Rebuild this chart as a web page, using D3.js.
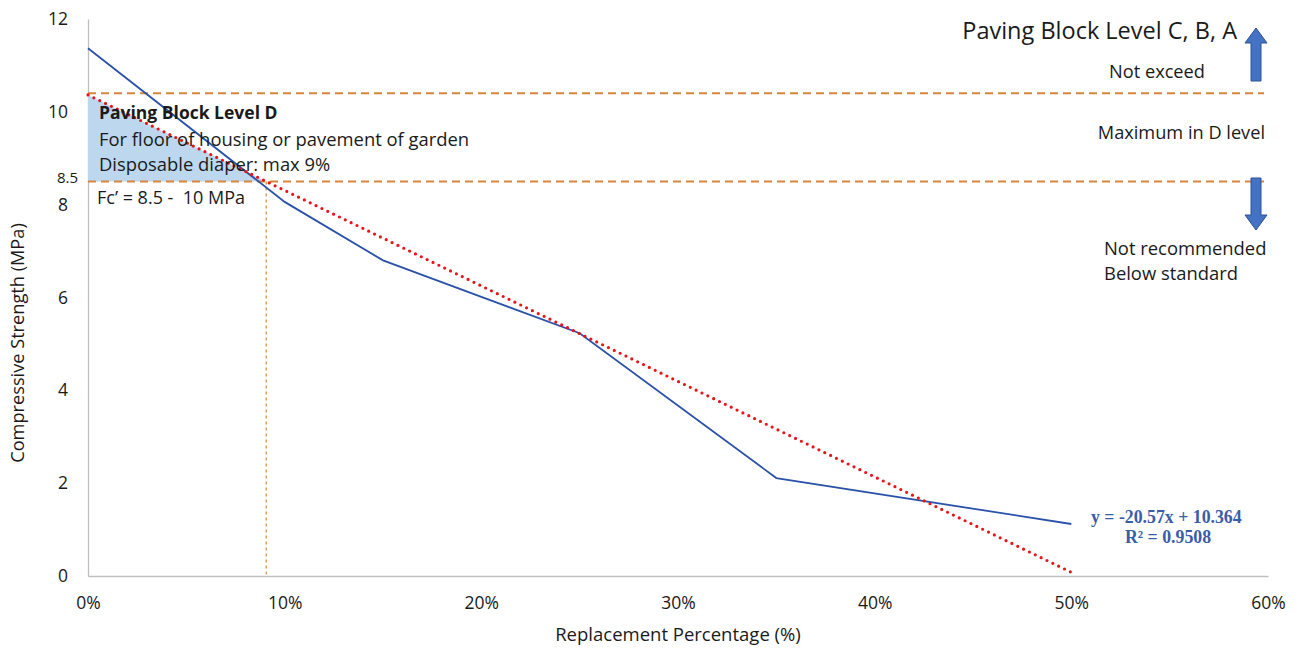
<!DOCTYPE html>
<html>
<head>
<meta charset="utf-8">
<script src="https://cdn.jsdelivr.net/npm/d3@7"></script>
<style>
  html, body { margin: 0; padding: 0; background: #fff; }
  svg text { font-family: "Open Sans", "Noto Sans", sans-serif; fill: #1a1a1a; white-space: pre; }
</style>
</head>
<body>
<svg id="chart" width="1304" height="652"></svg>
<script>
// Replacement percentage (fraction) and measured compressive strength (MPa)
const replacement = [0, 0.10, 0.15, 0.25, 0.35, 0.50];
const strength = [11.37, 8.06, 6.80, 5.23, 2.11, 1.12];

// Linear trendline coefficients
const trendSlope = -20.57;
const trendIntercept = 10.364;
const trendR2 = 0.9508;

// Axis ticks
const xTicks = [0, 0.1, 0.2, 0.3, 0.4, 0.5, 0.6];
const yTicks = [0, 2, 4, 6, 8, 10, 12];

// Level D band limits (MPa)
const levelDUpper = 10.4;
const levelDLower = 8.5;

const svg = d3.select("#chart");
const x = d3.scaleLinear().domain([0, 0.6]).range([88, 1268]);
const y = d3.scaleLinear().domain([0, 12]).range([576, 19]);

// axes
const xAxis = d3.axisBottom(x).tickValues(xTicks).tickSize(0).tickPadding(21)
  .tickFormat(d => Math.round(d * 100) + "%");
const gx = svg.append("g").attr("transform", `translate(0,${y(0)})`).call(xAxis);
gx.select(".domain").attr("stroke", "#bfbfbf").attr("stroke-width", 1.3);
gx.selectAll("text").attr("font-size", 17.5)
  .attr("font-family", "'Open Sans', sans-serif");

const yAxis = d3.axisLeft(y).tickValues(yTicks).tickSize(0).tickPadding(20);
const gy = svg.append("g").attr("transform", `translate(${x(0)},0)`).call(yAxis);
gy.select(".domain").attr("stroke", "#bfbfbf").attr("stroke-width", 1.3);
gy.selectAll("text").attr("font-size", 17.5)
  .attr("font-family", "'Open Sans', sans-serif");

// extra tick label for the lower band limit
svg.append("text").attr("x", 78).attr("y", y(levelDLower)).attr("dy", "0.1em")
  .attr("text-anchor", "end").attr("font-size", 15).text(levelDLower);

// axis titles
svg.append("text").attr("x", 678).attr("y", 641).attr("text-anchor", "middle")
  .attr("font-size", 18.5).text("Replacement Percentage (%)");
svg.append("text").attr("transform", "translate(24,343) rotate(-90)")
  .attr("text-anchor", "middle").attr("font-size", 18.2).text("Compressive Strength (MPa)");

// trendline helper
const trend = v => trendIntercept + trendSlope * v;
const crossX = (trendIntercept - levelDLower) / -trendSlope;

// shaded Level D region under the trendline
const shade = [[0, trend(0)], [crossX, levelDLower], [0, levelDLower]];
svg.append("path")
  .attr("d", d3.line().x(d => x(d[0])).y(d => y(d[1]))(shade) + "Z")
  .attr("fill", "#bdd7ee");

// band limit lines
[levelDUpper, levelDLower].forEach(v => {
  svg.append("line")
    .attr("x1", x(0)).attr("x2", 1264).attr("y1", y(v)).attr("y2", y(v))
    .attr("stroke", "#d9853b").attr("stroke-width", 2).attr("stroke-dasharray", "8,5");
});
svg.append("line")
  .attr("x1", x(0) + 0.5).attr("x2", x(0) + 0.5).attr("y1", y(levelDUpper)).attr("y2", y(trend(0)))
  .attr("stroke", "#d9853b").attr("stroke-width", 2);

// vertical limit at the trendline crossing
svg.append("line")
  .attr("x1", x(crossX)).attr("x2", x(crossX)).attr("y1", y(levelDLower)).attr("y2", y(0))
  .attr("stroke", "#d9853b").attr("stroke-width", 1.2).attr("stroke-dasharray", "3,3");

// measured series
const pts = replacement.map((r, i) => [r, strength[i]]);
svg.append("path")
  .attr("d", d3.line().x(d => x(d[0])).y(d => y(d[1]))(pts))
  .attr("fill", "none").attr("stroke", "#2a52a8").attr("stroke-width", 1.8);

// trendline (dotted)
const tr = [[0, trend(0)], [0.5, trend(0.5)]];
svg.append("path")
  .attr("d", d3.line().x(d => x(d[0])).y(d => y(d[1]))(tr))
  .attr("fill", "none").attr("stroke", "#e8141a").attr("stroke-width", 3.2)
  .attr("stroke-linecap", "round").attr("stroke-dasharray", "0,6.5");

// Level D annotation
svg.append("text").attr("x", 99).attr("y", 119).attr("font-size", 17.5).attr("font-weight", "bold")
  .text("Paving Block Level D");
svg.append("text").attr("x", 99).attr("y", 146).attr("font-size", 18.4)
  .text("For floor of housing or pavement of garden");
svg.append("text").attr("x", 99).attr("y", 171).attr("font-size", 18.4)
  .text("Disposable diaper: max 9%");
svg.append("text").attr("x", 97).attr("y", 204).attr("font-size", 18)
  .text("Fc\u2019 = 8.5 -  10 MPa");

// right-hand annotations
svg.append("text").attr("x", 1237).attr("y", 39).attr("text-anchor", "end").attr("font-size", 23.5)
  .text("Paving Block Level C, B, A");
svg.append("text").attr("x", 1157).attr("y", 78).attr("text-anchor", "middle").attr("font-size", 18.2)
  .text("Not exceed");
svg.append("text").attr("x", 1265).attr("y", 139).attr("text-anchor", "end").attr("font-size", 18.2)
  .text("Maximum in D level");
svg.append("text").attr("x", 1104).attr("y", 255).attr("font-size", 18.4).text("Not recommended");
svg.append("text").attr("x", 1104).attr("y", 280).attr("font-size", 18.4).text("Below standard");

// arrows
function arrow(cx, tipY, baseY) {
  const dir = Math.sign(baseY - tipY);
  const headLen = 15, shaft = 5, head = 11;
  const hy = tipY + dir * headLen;
  const p = [[cx, tipY], [cx + head, hy], [cx + shaft, hy], [cx + shaft, baseY],
             [cx - shaft, baseY], [cx - shaft, hy], [cx - head, hy]];
  svg.append("path").attr("d", "M" + p.map(q => q.join(",")).join("L") + "Z")
    .attr("fill", "#4472c4").attr("stroke", "#2f528f").attr("stroke-width", 1);
}
arrow(1256, 28, 81);
arrow(1256, 230, 178);

// trendline equation
const eq = svg.append("g").attr("font-weight", "bold").attr("font-size", 17.8);
eq.append("text").attr("x", 1091).attr("y", 523)
  .style("fill", "#3a5da8")
  .style("font-family", "'Liberation Serif', 'Times New Roman', serif")
  .text(`y = ${trendSlope}x + ${trendIntercept}`);
eq.append("text").attr("x", 1125).attr("y", 543)
  .style("fill", "#3a5da8")
  .style("font-family", "'Liberation Serif', 'Times New Roman', serif")
  .text(`R\u00b2 = ${trendR2}`);
</script>
</body>
</html>
